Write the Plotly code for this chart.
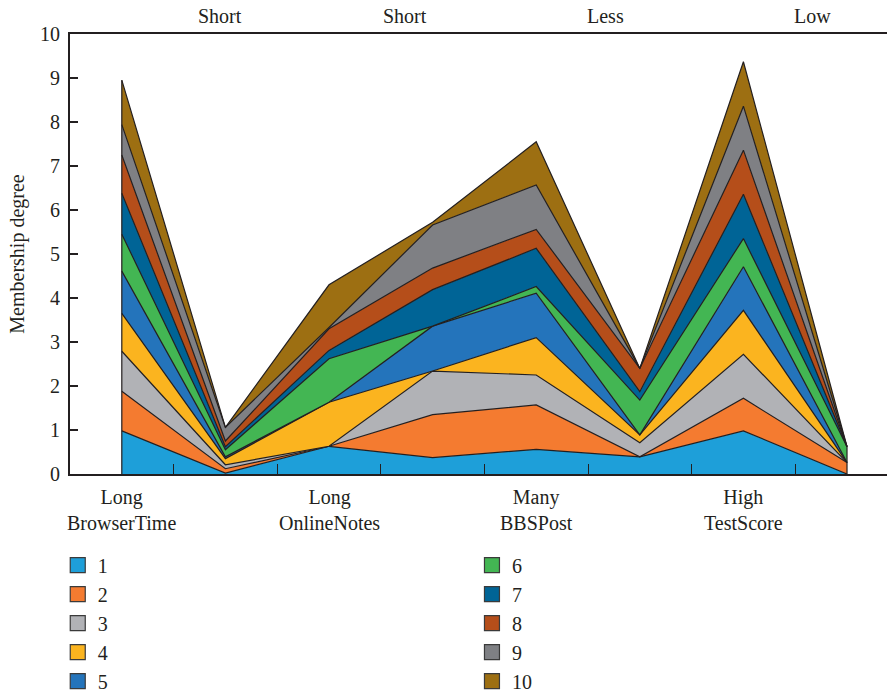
import plotly.graph_objects as go

# Membership degree of ten samples across eight linguistic terms
positions = [1, 2, 3, 4, 5, 6, 7, 8]
bottom_labels = ["Long<br>BrowserTime", "Long<br>OnlineNotes", "Many<br>BBSPost", "High<br>TestScore"]
bottom_pos = [1, 3, 5, 7]
top_labels = ["Short", "Short", "Less", "Low"]
top_pos = [1.95, 3.73, 5.67, 7.67]

s1 = [0.98, 0.02, 0.63, 0.37, 0.56, 0.39, 0.98, 0.00]
s2 = [0.90, 0.10, 0.00, 0.98, 1.01, 0.00, 0.74, 0.26]
s3 = [0.91, 0.09, 0.00, 0.99, 0.68, 0.32, 1.00, 0.00]
s4 = [0.86, 0.14, 1.00, 0.00, 0.85, 0.18, 1.00, 0.00]
s5 = [0.96, 0.04, 0.00, 1.02, 1.01, 0.00, 0.99, 0.00]
s6 = [0.84, 0.16, 0.99, 0.00, 0.15, 0.79, 0.64, 0.36]
s7 = [0.93, 0.07, 0.19, 0.83, 0.87, 0.19, 1.01, 0.00]
s8 = [0.87, 0.13, 0.49, 0.49, 0.43, 0.53, 1.00, 0.00]
s9 = [0.69, 0.31, 0.03, 0.98, 1.01, 0.00, 1.00, 0.00]
s10 = [1.01, 0.00, 0.97, 0.06, 0.98, 0.00, 1.01, 0.00]

series = [s1, s2, s3, s4, s5, s6, s7, s8, s9, s10]
names = [str(i) for i in range(1, 11)]
colors = ["#1e9fd9", "#f47b30", "#b1b2b6", "#fbb41f", "#2474bb",
          "#43b653", "#006496", "#b54e1a", "#7f8084", "#9d6f12"]

EDGE = "#231f20"
FONT = "Liberation Serif"

fig = go.Figure()

for name, vals, col in zip(names, series, colors):
    fig.add_trace(go.Scatter(
        x=positions, y=vals, mode="lines", stackgroup="one",
        line=dict(color=EDGE, width=1.2), fillcolor=col,
        name=name, showlegend=False, hoverinfo="skip",
    ))

# vertical outline at both ends of the stack
totals = [sum(v[i] for v in series) for i in range(len(positions))]
for idx in (0, len(positions) - 1):
    fig.add_trace(go.Scatter(
        x=[positions[idx], positions[idx]], y=[0, totals[idx]], mode="lines",
        line=dict(color=EDGE, width=1.2), showlegend=False, hoverinfo="skip",
    ))

# legend swatches, two columns
for i, (name, col) in enumerate(zip(names, colors)):
    fig.add_trace(go.Scatter(
        x=[None], y=[None], mode="markers", name=name,
        marker=dict(symbol="square", size=15, color=col,
                    line=dict(color="#3a3a3a", width=1.2)),
        legend="legend" if i < 5 else "legend2",
    ))

annotations = []
for lab, p in zip(bottom_labels, bottom_pos):
    annotations.append(dict(
        x=p, y=-0.022, xref="x", yref="paper", text=lab, showarrow=False,
        xanchor="center", yanchor="top", align="center",
        font=dict(family=FONT, size=20, color="#231f20"),
    ))
for lab, p in zip(top_labels, top_pos):
    annotations.append(dict(
        x=p, y=1.041, xref="x", yref="paper", text=lab, showarrow=False,
        xanchor="center", yanchor="middle",
        font=dict(family=FONT, size=20, color="#231f20"),
    ))

legend_style = dict(
    font=dict(family=FONT, size=20, color="#231f20"),
    bgcolor="rgba(0,0,0,0)", tracegroupgap=0, orientation="v",
    xanchor="left", yanchor="top", itemsizing="trace", traceorder="normal",
)

fig.update_layout(
    width=887, height=695,
    margin=dict(l=70, r=0, t=34, b=221, autoexpand=False),
    plot_bgcolor="white", paper_bgcolor="white",
    font=dict(family=FONT, size=20, color="#231f20"),
    annotations=annotations,
    legend=dict(x=-0.015, y=-0.163, **legend_style),
    legend2=dict(x=0.492, y=-0.163, **legend_style),
    xaxis=dict(
        range=[0.5, 8.386], showgrid=False, zeroline=False,
        showline=True, mirror=True, linecolor=EDGE, linewidth=2,
        ticks="inside", ticklen=10, tickwidth=1.2, tickcolor=EDGE,
        tickvals=[1.5, 2.5, 3.5, 4.5, 5.5, 6.5, 7.5],
        showticklabels=False,
    ),
    yaxis=dict(
        range=[0, 10], dtick=1, showgrid=False, zeroline=False,
        showline=True, linecolor=EDGE, linewidth=2,
        ticks="inside", ticklen=8, tickwidth=1.5, tickcolor=EDGE,
        tickfont=dict(family=FONT, size=20, color="#231f20"),
        ticklabelstandoff=4,
        title=dict(text="Membership degree", standoff=10,
                   font=dict(family=FONT, size=20, color="#231f20")),
    ),
)

fig.write_html("out.html")
